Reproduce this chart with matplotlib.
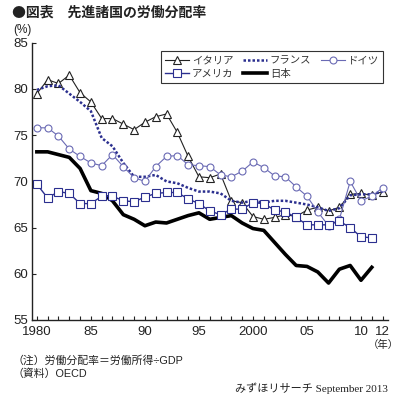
"""Labour share in advanced economies (Mizuho Research, Sept 2013)."""

import matplotlib

matplotlib.use("Agg")

import matplotlib.pyplot as plt

plt.rcParams["font.family"] = ["Liberation Sans", "Noto Sans CJK JP", "DejaVu Sans"]

years = list(range(1980, 2013))

italy = [79.5, 81.0, 80.6, 81.5, 79.6, 78.6, 76.8, 76.8, 76.2, 75.6,
         76.4, 77.0, 77.3, 75.3, 72.7, 70.5, 70.4, 70.8, 67.9, 67.7,
         66.2, 65.9, 66.1, 66.4, 66.2, 66.9, 67.2, 66.8, 67.2, 68.6,
         68.7, 68.5, 68.9]
france = [79.9, 80.3, 80.4, 79.5, 78.6, 77.6, 74.7, 73.8, 72.0, 70.5,
          70.5, 70.7, 70.0, 69.8, 69.3, 68.9, 68.9, 68.7, 67.9, 67.7,
          67.9, 67.7, 67.9, 67.9, 67.7, 67.5, 67.2, 66.8, 67.1, 68.5,
          68.6, 68.6, 68.9]
germany = [75.8, 75.8, 74.9, 73.5, 72.7, 72.0, 71.7, 72.9, 71.6, 70.4,
           70.0, 71.6, 72.7, 72.8, 71.8, 71.7, 71.6, 70.7, 70.5, 71.1,
           72.1, 71.5, 70.6, 70.5, 69.4, 68.4, 66.7, 65.2, 65.9, 70.0,
           67.9, 68.4, 69.3]
usa = [69.7, 68.2, 68.9, 68.7, 67.6, 67.6, 68.4, 68.4, 67.9, 67.8,
       68.3, 68.7, 68.8, 68.8, 68.1, 67.6, 66.8, 66.4, 67.0, 67.0,
       67.7, 67.6, 66.9, 66.7, 66.1, 65.3, 65.3, 65.3, 65.7, 65.0,
       64.0, 63.9]
japan = [73.2, 73.2, 72.9, 72.6, 71.4, 69.0, 68.7, 67.9, 66.4, 65.9,
         65.2, 65.6, 65.5, 65.9, 66.3, 66.6, 65.9, 66.1, 66.3, 65.5,
         64.9, 64.7, 63.4, 62.1, 60.9, 60.8, 60.2, 59.0, 60.5, 60.9,
         59.3, 60.7]

tick_labels = {1980: "1980", 1985: "85", 1990: "90", 1995: "95",
               2000: "2000", 2005: "05", 2010: "10", 2012: "12"}

navy = "#2b2f8f"
lilac = "#6a6ab4"
cjk = ["Noto Sans CJK JP", "DejaVu Sans"]

fig = plt.figure(figsize=(4.0, 4.0), dpi=100)
ax = fig.add_axes([0.08, 0.20, 0.89, 0.693])

h_it, = ax.plot(years, italy, color="#222222", lw=0.8, marker="^", ms=5.5,
                mfc="white", mec="#222222", mew=0.8, label="イタリア")
h_fr, = ax.plot(years, france, color=navy, lw=1.8, ls=(0, (1, 0.8)),
                label="フランス")
h_de, = ax.plot(years, germany, color=lilac, lw=0.8, marker="o", ms=5,
                mfc="white", mec=lilac, mew=0.8, label="ドイツ")
h_us, = ax.plot(years[:len(usa)], usa, color=navy, lw=1.0, marker="s", ms=5.5,
                mfc="white", mec=navy, mew=0.8, label="アメリカ")
h_jp, = ax.plot(years[:len(japan)], japan, color="black", lw=2.6,
                label="日本", zorder=1.5)

ax.set_xlim(1979.55, 2012.5)
ax.set_ylim(55, 85)
ax.set_yticks([55, 60, 65, 70, 75, 80, 85])
ax.set_xticks(years)
ax.set_xticklabels([tick_labels.get(y, "") for y in years])
ax.tick_params(axis="both", direction="in", length=3, width=0.8,
               labelsize=9.5, colors="#222222", pad=4)
ax.tick_params(axis="y", pad=3)
for side in ("top", "right"):
    ax.spines[side].set_visible(False)
for side in ("left", "bottom"):
    ax.spines[side].set_linewidth(1.0)
    ax.spines[side].set_color("#222222")

leg = ax.legend([h_it, h_us, h_fr, h_jp, h_de],
                ["イタリア", "アメリカ", "フランス", "日本", "ドイツ"],
                ncol=3, loc="upper right", bbox_to_anchor=(0.986, 0.97),
                borderaxespad=0, fontsize=7.5, fancybox=False,
                edgecolor="#333333", framealpha=1, handlelength=2.3,
                handletextpad=0.3, columnspacing=0.9, labelspacing=0.35,
                borderpad=0.4)
leg.get_frame().set_linewidth(0.8)
for t in leg.get_texts():
    t.set_color("#333333")

fig.text(0.03, 1 - 13 / 400, "●図表\u3000先進諸国の労働分配率", fontsize=10,
         fontweight="bold", va="center", color="#222222", family=cjk)
fig.text(0.032, 1 - 29.5 / 400, "(%)", fontsize=8.5, va="center",
         color="#222222")
fig.text(383 / 400, 1 - 345 / 400, "（年）", fontsize=7.5, va="center",
         ha="center", color="#222222")
fig.text(0.03, 1 - 360 / 400, "（注）労働分配率＝労働所得÷GDP", fontsize=7.8,
         va="center", color="#222222")
fig.text(0.03, 1 - 373.5 / 400, "（資料）OECD", fontsize=7.8, va="center",
         color="#222222")
fig.text(388 / 400, 1 - 388 / 400, "みずほリサーチ September 2013", fontsize=8,
         va="center", ha="right", color="#222222",
         family=["Liberation Serif", "Noto Sans CJK JP"])

fig.savefig("out.png", dpi=100, facecolor="white")
